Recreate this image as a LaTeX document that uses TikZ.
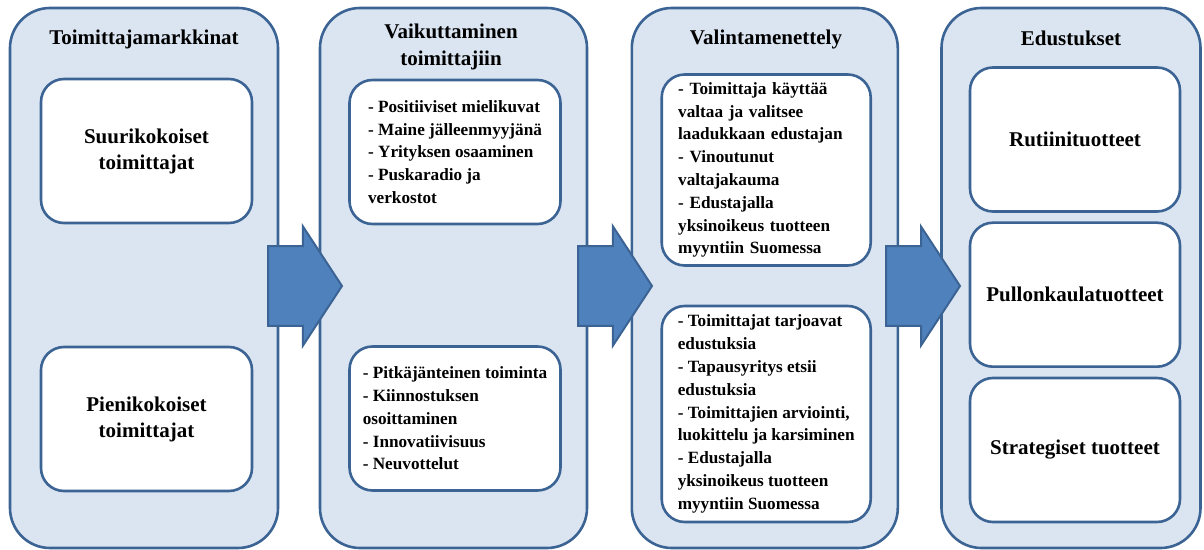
\documentclass[tikz,border=0pt]{standalone}
\usepackage{fontspec}
\setmainfont{Liberation Serif}
\usetikzlibrary{shapes.arrows}
\definecolor{lineblue}{HTML}{3B6394}
\definecolor{paleblue}{HTML}{DBE5F1}
\definecolor{arrowblue}{HTML}{4F81BD}
\begin{document}
\begin{tikzpicture}[x=0.5pt,y=-0.5pt,line width=1.3pt,
	column/.style={draw=lineblue,fill=paleblue,rounded corners=20pt,minimum height=270pt,inner sep=0pt},
	title/.style={font=\fontsize{10.5}{13.5}\selectfont\bfseries,align=center},
	card/.style={draw=lineblue,fill=white,rounded corners=11.5pt,minimum width=105.5pt,minimum height=72pt,inner sep=0pt,align=center,font=\fontsize{10.5}{13}\selectfont\bfseries},
	list/.style={card,align=left,font=\fontsize{8.6}{11.4}\selectfont\bfseries},
	bigarrow/.style={single arrow,draw=lineblue,fill=arrowblue,line width=1pt,minimum height=37pt,minimum width=59.5pt,inner sep=0pt,inner ysep=14pt,single arrow tip angle=113.5,anchor=tail}]
	\useasboundingbox (0,0) rectangle (1204,550);
	\node[column,minimum width=134pt] (markkinat) at (144,278) {};
	\node[column,minimum width=133.5pt] (vaikutus) at (453.5,278) {};
	\node[column,minimum width=133pt] (valinta) at (764.8,278) {};
	\node[column,minimum width=129.5pt] (edustus) at (1071,278) {};
	\node[title] (t1) at (144,39) {Toimittajamarkkinat};
	\node[title] (t2) at (451,47) {Vaikuttaminen\\toimittajiin};
	\node[title] (t3) at (766,39) {Valintamenettely};
	\node[title] (t4) at (1071,38) {Edustukset};
	\node[card] (suuri) at (146.5,151) {Suurikokoiset\\toimittajat};
	\node[card] (pieni) at (146.5,419) {Pienikokoiset\\toimittajat};
	\node[list] (kuva) at (455,152) {- Positiiviset mielikuvat\\- Maine jälleenmyyjänä\\- Yrityksen osaaminen\\- Puskaradio ja\\verkostot};
	\node[list] (toiminta) at (455,418.5) {- Pitkäjänteinen toiminta\\- Kiinnostuksen\\osoittaminen\\- Innovatiivisuus\\- Neuvottelut};
	\node[list,minimum width=104.5pt,minimum height=95.5pt,text width=88pt] (valta) at (766.2,170) {- Toimittaja käyttää\\valtaa ja valitsee\\laadukkaan edustajan\\- Vinoutunut\\valtajakauma\\- Edustajalla\\yksinoikeus tuotteen\\myyntiin Suomessa};
	\node[list,minimum width=104.5pt,minimum height=108pt] (tarjous) at (766.2,414) {- Toimittajat tarjoavat\\edustuksia\\- Tapausyritys etsii\\edustuksia\\- Toimittajien arviointi,\\luokittelu ja karsiminen\\- Edustajalla\\yksinoikeus tuotteen\\myyntiin Suomessa};
	\node[card,minimum width=105pt] (rutiini) at (1075,139.5) {Rutiinituotteet};
	\node[card,minimum width=105pt] (pullon) at (1075,294.7) {Pullonkaulatuotteet};
	\node[card,minimum width=105pt] (strat) at (1075,450) {Strategiset tuotteet};
	\node[bigarrow] (nuoli1) at (267,286) {};
	\node[bigarrow] (nuoli2) at (577,286) {};
	\node[bigarrow] (nuoli3) at (885,286) {};
\end{tikzpicture}
\end{document}
